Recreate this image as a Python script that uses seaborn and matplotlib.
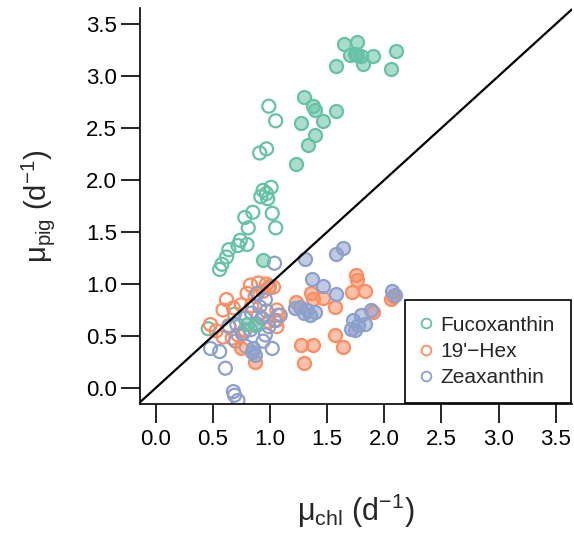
import matplotlib
matplotlib.use("Agg")
import matplotlib.pyplot as plt
from matplotlib.lines import Line2D
import numpy as np
import pandas as pd
import seaborn as sns

# Growth rates (d^-1): chlorophyll-based (x) vs pigment-based (y)
fuco_fill_x = [1.65, 1.76, 1.70, 1.76, 1.80, 1.90, 1.81, 1.58, 2.10, 2.06, 1.74,
               1.30, 1.38, 1.39, 1.58, 1.27, 1.46, 1.39, 1.33, 1.23, 0.94, 0.87, 0.80]
fuco_fill_y = [3.31, 3.33, 3.20, 3.20, 3.19, 3.19, 3.12, 3.10, 3.24, 3.07, 3.21,
               2.80, 2.71, 2.67, 2.66, 2.55, 2.57, 2.43, 2.34, 2.15, 1.23, 0.61, 0.62]
fuco_open_x = [0.99, 1.05, 0.91, 0.97, 1.01, 0.94, 0.92, 0.98, 0.97, 1.02, 1.05,
               0.85, 0.78, 0.81, 0.74, 0.80, 0.72, 0.64, 0.62, 0.58, 0.56, 0.46,
               0.69, 0.78]
fuco_open_y = [2.71, 2.57, 2.26, 2.30, 1.93, 1.90, 1.84, 1.82, 1.87, 1.68, 1.54,
               1.69, 1.64, 1.54, 1.42, 1.38, 1.37, 1.33, 1.26, 1.19, 1.14, 0.57,
               0.71, 0.55]

hex_fill_x = [1.75, 1.76, 1.72, 1.83, 1.36, 1.38, 1.46, 1.23, 1.57, 1.90, 2.06,
              2.08, 1.57, 1.64, 1.27, 1.38, 1.30, 0.75, 0.87, 0.99]
hex_fill_y = [1.09, 1.04, 0.92, 0.93, 0.91, 0.86, 0.87, 0.83, 0.78, 0.73, 0.86,
              0.88, 0.51, 0.39, 0.41, 0.41, 0.24, 0.38, 0.25, 0.98]
hex_open_x = [0.83, 0.90, 0.97, 1.03, 0.80, 0.87, 0.94, 0.62, 0.59, 0.68, 0.75,
              0.48, 0.59, 0.67, 0.72, 1.06, 1.06, 1.06, 1.07, 0.78, 0.90, 0.84,
              0.64, 0.99, 0.53]
hex_open_y = [0.99, 1.01, 1.00, 0.97, 0.91, 0.88, 0.93, 0.85, 0.75, 0.77, 0.80,
              0.61, 0.49, 0.48, 0.51, 0.75, 0.65, 0.59, 0.70, 0.56, 0.70, 0.79,
              0.60, 0.64, 0.55]

zea_fill_x = [1.31, 1.58, 1.64, 1.37, 1.46, 1.58, 1.22, 1.26, 1.32, 1.39, 1.35,
              1.30, 2.07, 2.09, 1.73, 1.80, 1.88, 1.71, 1.77, 1.83, 1.74, 0.84,
              0.87, 0.85]
zea_fill_y = [1.24, 1.29, 1.35, 1.05, 0.98, 0.90, 0.77, 0.78, 0.75, 0.73, 0.70,
              0.72, 0.93, 0.89, 0.65, 0.70, 0.75, 0.57, 0.61, 0.62, 0.56, 0.35,
              0.32, 0.38]
zea_open_x = [1.04, 0.48, 0.56, 0.61, 0.68, 0.69, 0.72, 0.64, 0.71, 0.78, 0.84,
              0.91, 0.96, 0.99, 0.99, 0.96, 0.94, 1.02, 1.04, 1.09, 0.88, 0.93,
              0.76, 0.83, 0.89, 0.97, 0.70, 0.79]
zea_open_y = [1.20, 0.38, 0.35, 0.19, -0.035, -0.07, -0.12, 0.59, 0.61, 0.67, 0.72,
              0.78, 0.85, 0.96, 0.59, 0.51, 0.45, 0.38, 0.65, 0.70, 0.62, 0.67,
              0.52, 0.56, 0.91, 0.74, 0.45, 0.40]

pigments = ["Fucoxanthin", "19'\u2212Hex", "Zeaxanthin"]
series = {
    pigments[0]: ((fuco_fill_x, fuco_fill_y), (fuco_open_x, fuco_open_y)),
    pigments[1]: ((hex_fill_x, hex_fill_y), (hex_open_x, hex_open_y)),
    pigments[2]: ((zea_fill_x, zea_fill_y), (zea_open_x, zea_open_y)),
}

xticks = [0.0, 0.5, 1.0, 1.5, 2.0, 2.5, 3.0, 3.5]
yticks = [0.0, 0.5, 1.0, 1.5, 2.0, 2.5, 3.0, 3.5]

sns.set_style("white")
plt.rcParams["font.family"] = ["Liberation Sans", "DejaVu Sans"]
plt.rcParams["mathtext.fontset"] = "custom"
plt.rcParams["mathtext.rm"] = "Liberation Sans"
plt.rcParams["mathtext.it"] = "Liberation Sans:italic"
plt.rcParams["mathtext.bf"] = "Liberation Sans:bold"

palette = dict(zip(pigments, sns.color_palette("Set2", 3)))

fig = plt.figure(figsize=(5.74, 5.37), dpi=100)
ax = fig.add_axes([0.2439, 0.2477, 0.7521, 0.7373])

ms = 88
lw = 1.6
for name in pigments:
    (fx, fy), (ox, oy) = series[name]
    col = palette[name]
    df_open = pd.DataFrame({"x": ox, "y": oy})
    df_fill = pd.DataFrame({"x": fx, "y": fy})
    sns.scatterplot(data=df_open, x="x", y="y", ax=ax, s=ms,
                    facecolor="none", edgecolor=col, linewidth=lw,
                    legend=False, zorder=2, clip_on=True)
    sns.scatterplot(data=df_fill, x="x", y="y", ax=ax, s=ms,
                    facecolor=(*col, 0.55), edgecolor=col, linewidth=lw,
                    legend=False, zorder=3, clip_on=True)

# 1:1 reference line
ax.axline((0, 0), slope=1, color="black", lw=1.6, zorder=4)

ax.set_xlim(-0.137, 3.64)
ax.set_ylim(-0.154, 3.654)
ax.set_xticks(xticks)
ax.set_yticks(yticks)
ax.set_xticklabels([f"{v:.1f}" for v in xticks])
ax.set_yticklabels([f"{v:.1f}" for v in yticks])

for side in ["top", "right"]:
    ax.spines[side].set_visible(False)
for side in ["left", "bottom"]:
    ax.spines[side].set_color("black")
    ax.spines[side].set_linewidth(1.2)

ax.tick_params(axis="both", direction="out", length=13.5, width=1.2,
               color="black", labelsize=16, labelcolor="black",
               bottom=True, left=True)
ax.tick_params(axis="x", pad=4.5)
ax.tick_params(axis="y", pad=3)

ax.set_xlabel("\u03bc$_{\\mathrm{chl}}$ (d$^{\\mathrm{-1}}$)", fontsize=22,
              labelpad=30)
ax.set_ylabel("\u03bc$_{\\mathrm{pig}}$ (d$^{\\mathrm{-1}}$)", fontsize=21,
              labelpad=21)

handles = [Line2D([], [], ls="none", marker="o", markersize=7,
                  markerfacecolor="none", markeredgecolor=palette[n],
                  markeredgewidth=1.3) for n in pigments]
leg = ax.legend(handles, pigments, loc="lower right", fontsize=15,
                frameon=True, fancybox=False, framealpha=1,
                borderaxespad=0.05, borderpad=0.75, labelspacing=0.35,
                handlelength=0.5, handletextpad=0.45)
leg.get_frame().set_edgecolor("black")
leg.get_frame().set_linewidth(1.2)
leg.set_zorder(5)

fig.savefig("out.png", dpi=100)
